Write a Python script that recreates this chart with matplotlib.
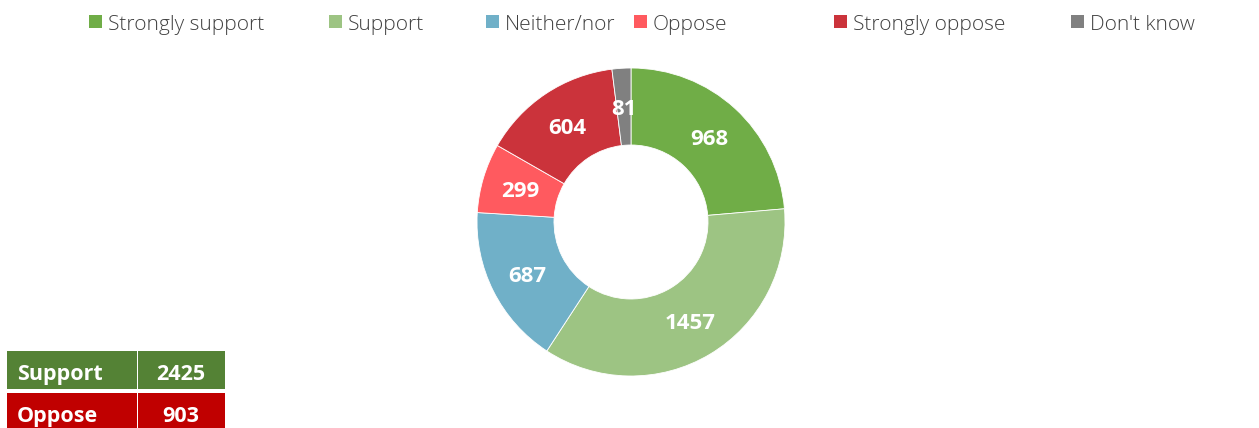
import matplotlib
matplotlib.use("Agg")
import matplotlib.pyplot as plt
from matplotlib.patches import Rectangle

categories = ["Strongly support", "Support", "Neither/nor", "Oppose", "Strongly oppose", "Don't know"]
values = [968, 1457, 687, 299, 604, 81]
colors = ["#70AD47", "#9DC483", "#70B0C8", "#FF5A5F", "#CB333B", "#808080"]

summary_labels = ["Support", "Oppose"]
summary_values = [2425, 903]
summary_colors = ["#548235", "#C00000"]

W, H = 1259, 428
fig = plt.figure(figsize=(W / 100, H / 100), dpi=100)
plt.rcParams['font.family'] = ['Open Sans', 'DejaVu Sans']

# Donut
cx, cy, R = 631, 222, 154
ax = fig.add_axes([(cx - R) / W, (H - cy - R) / H, 2 * R / W, 2 * R / H])
wedges, texts, autotexts = ax.pie(
    values, colors=colors, startangle=90, counterclock=False,
    radius=1.0, wedgeprops=dict(width=0.5, edgecolor="white", linewidth=0.6),
    autopct=lambda p: "", pctdistance=0.75)
for w, t, v in zip(wedges, autotexts, values):
    t.set_text(str(v))
    t.set_color("white")
    t.set_fontsize(16)
    t.set_fontweight("bold")
    t.set_va("center_baseline")
ax.set_xlim(-1, 1)
ax.set_ylim(-1, 1)
ax.set_aspect("equal")
ax.axis("off")

# Overlay axes in pixel coordinates for legend and summary table
ov = fig.add_axes([0, 0, 1, 1])
ov.set_xlim(0, W)
ov.set_ylim(H, 0)
ov.axis("off")

leg_x = [89, 329, 486, 634, 834, 1071]
for x, lab, col in zip(leg_x, categories, colors):
    ov.add_patch(Rectangle((x, 15), 13, 13, facecolor=col, edgecolor="none"))
    ov.text(x + 19, 22.5, lab, fontsize=15, fontweight="light", color="#404040",
            va="center_baseline", ha="left")

row_tops = [351, 393]
for top, lab, val, col in zip(row_tops, summary_labels, summary_values, summary_colors):
    ov.add_patch(Rectangle((7, top), 130, 38, facecolor=col, edgecolor="none"))
    ov.add_patch(Rectangle((138, top), 87, 38, facecolor=col, edgecolor="none"))
    ov.text(17, top + 21, lab, fontsize=15.5, fontweight="bold", color="white",
            va="center_baseline", ha="left")
    ov.text(181, top + 21, str(val), fontsize=15.5, fontweight="bold", color="white",
            va="center_baseline", ha="center")

fig.savefig("out.png", dpi=100)
